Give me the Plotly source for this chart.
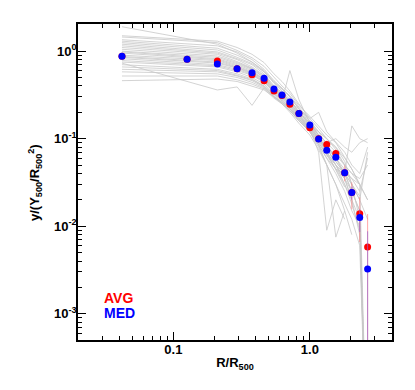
"""Normalised pressure profiles: individual objects plus average / median."""

import plotly.graph_objects as go

# radial bins of the stacked profile (R / R500)
R_BINS = [0.042, 0.126, 0.21, 0.293, 0.377, 0.462, 0.546, 0.625, 0.714,
          0.831, 1.0, 1.16, 1.33, 1.55, 1.8, 2.03, 2.32, 2.65]

AVG = [0.877, 0.81, 0.77, 0.63, 0.538, 0.46, 0.351, 0.312, 0.248, 0.194,
       0.133, 0.10, 0.086, 0.0676, 0.0408, 0.0243, 0.0139, 0.00577]
AVG_ERR_UP = [0.03, 0.03, 0.03, 0.02, 0.02, 0.02, 0.015, 0.012, 0.012, 0.01,
              0.01, 0.009, 0.009, 0.008, 0.0085, 0.0073, 0.0075, 0.008]
AVG_ERR_DN = [0.03, 0.03, 0.03, 0.02, 0.02, 0.02, 0.015, 0.012, 0.012, 0.01,
              0.01, 0.009, 0.009, 0.008, 0.0083, 0.0087, 0.0073, 0.006]

MED = [0.877, 0.81, 0.711, 0.629, 0.567, 0.49, 0.37, 0.316, 0.263, 0.194,
       0.143, 0.0993, 0.0736, 0.0613, 0.0408, 0.0242, 0.0126, 0.00325]
MED_ERR_UP = [0.02, 0.02, 0.02, 0.015, 0.015, 0.01, 0.01, 0.008, 0.008, 0.006,
              0.006, 0.005, 0.005, 0.004, 0.004, 0.004, 0.003, 0.0055]
MED_ERR_DN = [0.02, 0.02, 0.02, 0.015, 0.015, 0.01, 0.01, 0.008, 0.008, 0.006,
              0.006, 0.005, 0.005, 0.004, 0.004, 0.004, 0.004, 0.004]

# individual profiles share these bins (no point at 0.126)
R_IND = [0.042, 0.21, 0.293, 0.377, 0.462, 0.546, 0.625, 0.714, 0.831,
         1.0, 1.16, 1.33, 1.55, 1.8, 2.03, 2.32, 2.65]

# 1e-5 marks bins where a profile drops to zero (falls off the bottom)
PROFILES = [
    [1.9, 1.2, 0.95, 0.75, 0.58, 0.45, 0.36, 0.30, 0.22, 0.15, 0.11, 0.08, 0.05, 0.03, 0.018, 0.009, 1e-5],
    [1.5, 1.3, 1.1, 0.92, 0.74, 0.55, 0.45, 0.35, 0.25, 0.17, 0.13, 0.10, 0.075, 0.05, 0.03, 0.02, 0.012],
    [1.45, 1.25, 1.02, 0.84, 0.67, 0.50, 0.40, 0.33, 0.24, 0.18, 0.14, 0.11, 0.09, 0.06, 0.045, 0.03],
    [1.35, 1.15, 0.98, 0.80, 0.62, 0.46, 0.38, 0.30, 0.22, 0.16, 0.12, 0.085, 0.06, 0.04, 0.025, 0.015, 1e-5],
    [1.3, 1.08, 0.90, 0.75, 0.60, 0.44, 0.37, 0.31, 0.23, 0.16, 0.105, 0.07, 0.045, 0.028],
    [1.25, 1.03, 0.85, 0.72, 0.58, 0.43, 0.35, 0.28, 0.20, 0.15, 0.11, 0.09, 0.10, 0.08, 0.07, 0.09, 0.10],
    [1.2, 0.98, 0.82, 0.70, 0.55, 0.40, 0.33, 0.27, 0.21, 0.14, 0.095, 0.065, 0.045, 0.035, 0.02, 0.012, 1e-5],
    [1.15, 0.95, 0.80, 0.66, 0.53, 0.39, 0.34, 0.26, 0.19, 0.13, 0.10, 0.08, 0.06, 0.045, 0.035, 0.025, 0.06],
    [1.1, 0.92, 0.76, 0.64, 0.52, 0.38, 0.33, 0.27, 0.20, 0.145, 0.10, 0.07, 0.05, 0.035, 0.02],
    [1.05, 0.88, 0.74, 0.63, 0.50, 0.38, 0.32, 0.25, 0.18, 0.13, 0.07, 0.009, 0.02, 0.012],
    [1.0, 0.85, 0.72, 0.62, 0.50, 0.37, 0.31, 0.26, 0.19, 0.14, 0.11, 0.09, 0.07, 0.05, 0.04, 0.03, 0.02],
    [0.98, 0.82, 0.70, 0.60, 0.48, 0.36, 0.32, 0.27, 0.20, 0.15, 0.12, 0.10, 0.08, 0.055, 0.03, 0.012, 1e-5],
    [0.95, 0.80, 0.68, 0.58, 0.47, 0.36, 0.30, 0.24, 0.18, 0.13, 0.09, 0.065, 0.045, 0.03, 0.02, 0.008],
    [0.9, 0.78, 0.66, 0.57, 0.48, 0.37, 0.31, 0.25, 0.19, 0.14, 0.10, 0.075, 0.055, 0.04, 0.03, 0.02, 0.07],
    [0.87, 0.75, 0.65, 0.56, 0.46, 0.35, 0.30, 0.26, 0.22, 0.17, 0.20, 0.12, 0.09, 0.07, 0.05, 0.04, 0.08],
    [0.85, 0.73, 0.64, 0.55, 0.45, 0.34, 0.27, 0.60, 0.28, 0.15, 0.10, 0.07, 0.05, 0.035, 0.025, 0.015, 1e-5],
    [0.82, 0.70, 0.62, 0.54, 0.45, 0.35, 0.29, 0.24, 0.17, 0.12, 0.085, 0.05, 0.0075, 0.015, 0.008],
    [0.78, 0.68, 0.60, 0.53, 0.44, 0.34, 0.28, 0.23, 0.17, 0.125, 0.09, 0.065, 0.05, 0.04, 0.035, 0.03, 1e-5],
    [0.75, 0.66, 0.58, 0.50, 0.42, 0.33, 0.28, 0.22, 0.16, 0.12, 0.08, 0.05, 0.03, 0.015],
    [0.73, 0.36, 0.39, 0.24, 0.38, 0.30, 0.25, 0.21, 0.16, 0.12, 0.085, 0.06, 0.045, 0.04, 0.14, 0.10, 0.09],
    [0.70, 0.62, 0.55, 0.48, 0.40, 0.32, 0.27, 0.22, 0.17, 0.13, 0.10, 0.08, 0.06, 0.04, 0.03, 0.022],
    [0.66, 0.60, 0.53, 0.47, 0.40, 0.31, 0.26, 0.21, 0.16, 0.12, 0.085, 0.06, 0.04, 0.025, 0.015, 0.01, 1e-5],
    [0.62, 0.58, 0.52, 0.46, 0.39, 0.30, 0.25, 0.21, 0.16, 0.125, 0.095, 0.075, 0.055, 0.04, 0.025],
    [0.58, 0.55, 0.50, 0.44, 0.38, 0.30, 0.26, 0.22, 0.17, 0.13, 0.10, 0.08, 0.065, 0.05, 0.04, 0.035, 0.05],
    [0.52, 0.52, 0.47, 0.42, 0.37, 0.29, 0.25, 0.20, 0.15, 0.11, 0.075, 0.05, 0.03, 0.018, 0.012, 0.006, 1e-5],
    [0.46, 0.48, 0.45, 0.40, 0.36, 0.30, 0.26, 0.22, 0.18, 0.14, 0.12, 0.10, 0.08, 0.06, 0.045, 0.03, 0.02],
]

X_TICKS = [0.1, 1.0]
X_TICKTEXT = ["0.1", "1.0"]
X_MINOR = [0.02, 0.03, 0.04, 0.05, 0.06, 0.07, 0.08, 0.09,
           0.2, 0.3, 0.4, 0.5, 0.6, 0.7, 0.8, 0.9, 2, 3, 4]
Y_TICKS = [1e-3, 1e-2, 1e-1, 1]
Y_TICKTEXT = ["10<sup>-3</sup>", "10<sup>-2</sup>", "10<sup>-1</sup>", "10<sup>0</sup>"]
Y_MINOR = [m * 10.0 ** e for e in (-4, -3, -2, -1, 0) for m in range(2, 10)]

FONT = "Liberation Sans, Arial, sans-serif"


def stacked_point(fig, y, up, dn, color, bar_color):
    fig.add_trace(
        go.Scatter(
            x=R_BINS,
            y=y,
            mode="markers",
            marker={"color": color, "size": 7},
            error_y={"type": "data", "symmetric": False, "array": up,
                     "arrayminus": dn, "color": bar_color,
                     "thickness": 1, "width": 0},
            showlegend=False,
        )
    )


fig = go.Figure()

for prof in PROFILES:
    fig.add_trace(
        go.Scatter(
            x=R_IND[: len(prof)],
            y=prof,
            mode="lines",
            line={"color": "#c8c8c8", "width": 0.8},
            showlegend=False,
            hoverinfo="skip",
        )
    )

stacked_point(fig, AVG, AVG_ERR_UP, AVG_ERR_DN, "#ff0000", "rgba(255,110,110,0.6)")
stacked_point(fig, MED, MED_ERR_UP, MED_ERR_DN, "#0000ff", "rgba(150,100,210,0.7)")

axis_common = dict(
    type="log",
    automargin=False,
    showgrid=False,
    zeroline=False,
    showline=True,
    linecolor="black",
    linewidth=1.5,
    mirror="allticks",
    ticks="inside",
    ticklen=8,
    tickwidth=1.2,
    tickcolor="black",
    ticklabelstandoff=-3,
    tickfont={"size": 13, "family": FONT, "weight": "bold", "color": "black"},
)

fig.update_xaxes(
    **axis_common,
    range=[-1.699, 0.602],
    tickvals=X_TICKS,
    ticktext=X_TICKTEXT,
    minor={"tickvals": X_MINOR, "ticks": "inside", "ticklen": 4,
           "tickcolor": "black", "tickwidth": 1, "showgrid": False},
    title={"text": "R/R<sub>500</sub>", "standoff": 2,
           "font": {"size": 13, "family": FONT, "weight": "bold"}},
)
fig.update_yaxes(
    **axis_common,
    range=[-3.3, 0.31],
    tickvals=Y_TICKS,
    ticktext=Y_TICKTEXT,
    minor={"tickvals": Y_MINOR, "ticks": "inside", "ticklen": 4,
           "tickcolor": "black", "tickwidth": 1, "showgrid": False},
)

# y title placed by hand so it sits where the original does
fig.add_annotation(
    text="y/(Y<sub>500</sub>/R<sub>500</sub><sup>2</sup>)",
    x=-0.137, y=0.5, xref="paper", yref="paper",
    xanchor="center", yanchor="middle", textangle=-90, showarrow=False,
    font={"size": 13, "family": FONT, "weight": "bold", "color": "black"},
)

for label, color, ypos in (("AVG", "#ff0000", 0.133), ("MED", "#0000ff", 0.085)):
    fig.add_annotation(
        text=label, x=0.076, y=ypos, xref="paper", yref="paper",
        xanchor="left", yanchor="middle", showarrow=False,
        font={"size": 14, "family": FONT, "weight": "bold", "color": color},
    )

# the page body adds an 8px offset, so the figure is a little smaller
fig.update_layout(
    width=407,
    height=382,
    margin={"l": 70, "r": 23, "t": 16, "b": 50},
    paper_bgcolor="white",
    plot_bgcolor="white",
    font={"family": FONT, "color": "black"},
)

fig.write_html("out.html")
